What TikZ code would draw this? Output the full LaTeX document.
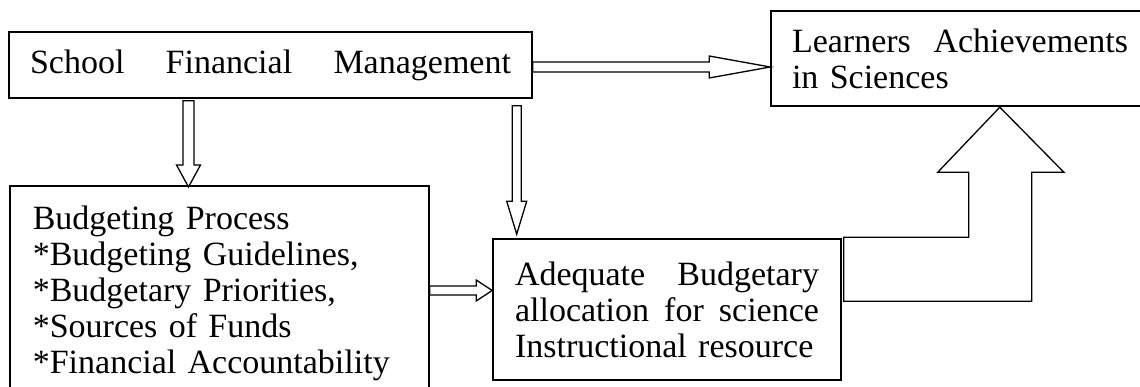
\documentclass[tikz,border=0pt]{standalone}
\usepackage{fontspec}
\setmainfont{Liberation Serif}
\usetikzlibrary{calc}

% hollow block arrows: tail point, tip point, shaft half width, head half width, head length
\newcommand\hblk[5]{%
  \draw[blk] let \p1=(#1), \p2=(#2) in
    (\x1,\y2+#3) -- (\x2-#5,\y2+#3) -- (\x2-#5,\y2+#4) -- (\x2,\y2)
    -- (\x2-#5,\y2-#4) -- (\x2-#5,\y2-#3) -- (\x1,\y2-#3) -- cycle;}
\newcommand\vblk[5]{%
  \draw[blk] let \p1=(#1), \p2=(#2) in
    (\x2-#3,\y1) -- (\x2-#3,\y2+#5) -- (\x2-#4,\y2+#5) -- (\x2,\y2)
    -- (\x2+#4,\y2+#5) -- (\x2+#3,\y2+#5) -- (\x2+#3,\y1) -- cycle;}

\begin{document}
\begin{tikzpicture}[x=1pt, y=-1pt,
  box/.style={draw, line width=1.6pt, inner ysep=0pt, align=left,
              font=\fontsize{34}{36}\selectfont},
  blk/.style={draw, line width=1.3pt, fill=white, line join=miter}
]
  \path[use as bounding box, clip] (0,0) rectangle (1140,387);

  \node[box, text width=481pt, inner xsep=21pt, minimum height=66pt]
    (sfm) at (270.5,65) {School\hfill Financial\hfill Management};
  \node[box, text width=336pt, inner xsep=21pt, minimum height=95pt]
    (lac) at (960,58.5) {Learners\hfill Achievements\\in Sciences};
  \node[box, text width=373pt, inner xsep=23pt, inner ysep=20pt, anchor=north west]
    (bp) at (9,185) {Budgeting Process\\{}*Budgeting Guidelines,\\{}*Budgetary Priorities,\\{}*Sources of Funds\\{}*Financial Accountability};
  \node[box, text width=304pt, inner xsep=22pt, minimum height=141pt]
    (aba) at (667,309.5) {Adequate\hfill Budgetary\\allocation\hfill for\hfill science\\Instructional resource};

  \hblk{sfm.east}{$(lac.west |- sfm.east)+(0,2)$}{5pt}{11pt}{61pt}
  \vblk{$(sfm.south)+(0,2)$}{$(bp.north west)+(179.5,2)$}{5.5pt}{12pt}{22pt}
  \vblk{$(sfm.south)+(0,7)$}{$(aba.north west)+(24.5,-4)$}{4.5pt}{10pt}{33pt}
  \hblk{bp.east}{$(aba.west)+(0,-19)$}{4.5pt}{10.5pt}{16pt}
  % elbow arrow up to the achievements box
  \draw[blk] ($(aba.north east)+(2,-1)$) -- ++(125,0) -- ++(0,-65) -- ++(-31,0)
    -- ++(62,-65) -- ++(64,65) -- ++(-32,0) -- ++(0,129) -- ++(-188,0) -- cycle;
\end{tikzpicture}
\end{document}
